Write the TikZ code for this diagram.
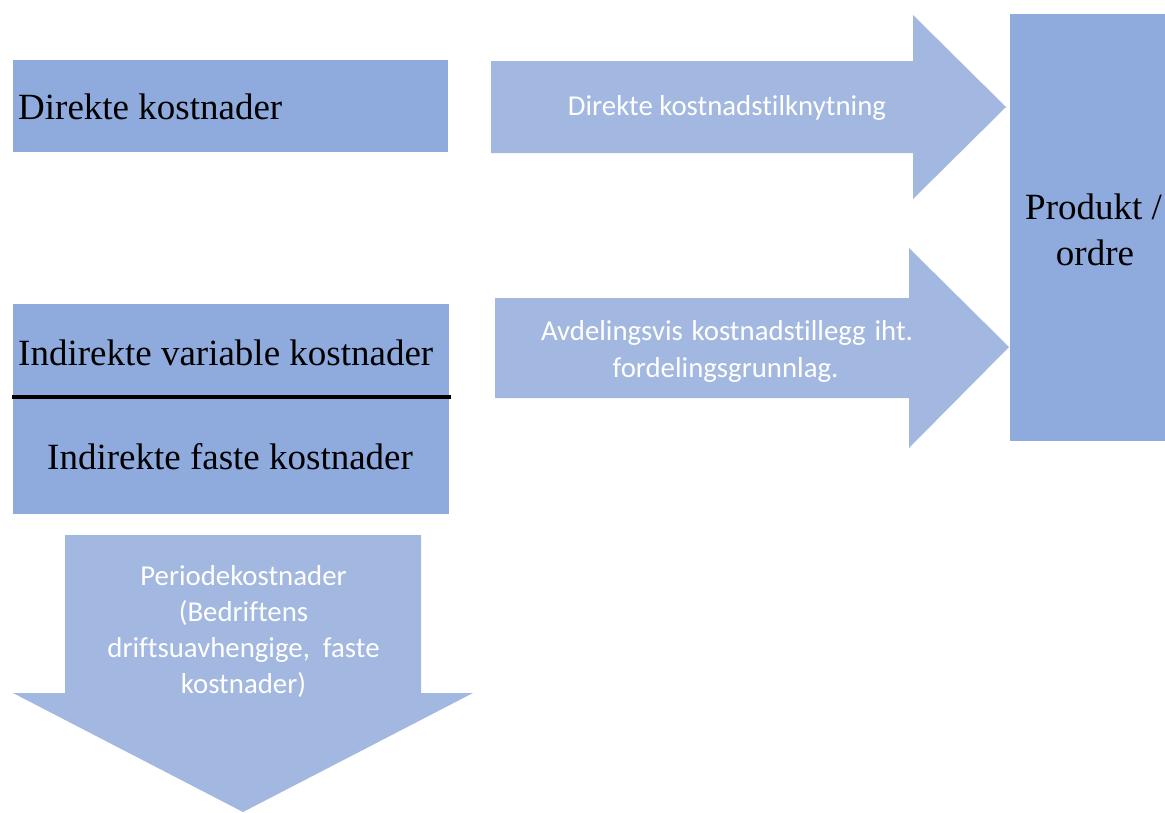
\documentclass[tikz,border=0pt]{standalone}
\usepackage{fontspec}
\setmainfont{Liberation Serif}
\newfontfamily\calfont[Ligatures={NoCommon}]{Carlito}
\definecolor{boxc}{HTML}{8FAADC}
\definecolor{arrc}{HTML}{A2B8E0}
\begin{document}
\begin{tikzpicture}[x=1pt,y=-1pt,
  boxtext/.style={inner sep=0pt,font=\fontsize{37}{44}\selectfont,text=black},
  arrtext/.style={inner sep=0pt,font=\calfont\fontsize{28.8}{36}\selectfont,text=white},
  boxfill/.style={fill=boxc},
  arrfill/.style={fill=arrc}]
\useasboundingbox (0,0) rectangle (1165,812);
% boxes
\fill[boxfill] (13,60) rectangle (448,152);
\node[boxtext,anchor=base west] (dk) at (18,119) {Direkte kostnader};
\fill[boxfill] (13,304) rectangle (449,514);
\node[boxtext,anchor=base west] (ivk) at (18,365) {Indirekte variable kostnader};
\node[boxtext,anchor=base west] (ifk) at (47,469) {Indirekte faste kostnader};
\draw[line width=3.5pt] (12,397) -- (451,397);
\fill[boxfill] (1010,14) rectangle (1165,441);
\node[boxtext,anchor=base west] (prod1) at (1025,219) {Produkt /};
\node[boxtext,anchor=base] (prod2) at (1095,265) {ordre};
% arrows
\fill[arrfill] (491,61) -- (913,61) -- (913,15) -- (1006,107) -- (913,199) -- (913,153) -- (491,153) -- cycle;
\node[arrtext,anchor=base] (a1) at (727,115) {Direkte kostnadstilknytning};
\fill[arrfill] (495,298) -- (909,298) -- (909,248) -- (1009,347) -- (909,448) -- (909,398) -- (495,398) -- cycle;
\node[arrtext,anchor=base] (a2a) at (727,340) {\hbox to 372pt{Avdelingsvis\hfill kostnadstillegg\hfill iht.}};
\node[arrtext,anchor=base] (a2b) at (725.5,377) {fordelingsgrunnlag.};
\fill[arrfill] (65,535) -- (421,535) -- (421,693) -- (473,693) -- (243,812) -- (13,693) -- (65,693) -- cycle;
\node[arrtext,anchor=base] (p1) at (243.5,585) {Periodekostnader};
\node[arrtext,anchor=base] (p2) at (243.5,621.5) {(Bedriftens};
\node[arrtext,anchor=base] (p3) at (243.5,657) {driftsuavhengige,\ \ faste};
\node[arrtext,anchor=base] (p4) at (243.5,693) {kostnader)};
\end{tikzpicture}
\end{document}
